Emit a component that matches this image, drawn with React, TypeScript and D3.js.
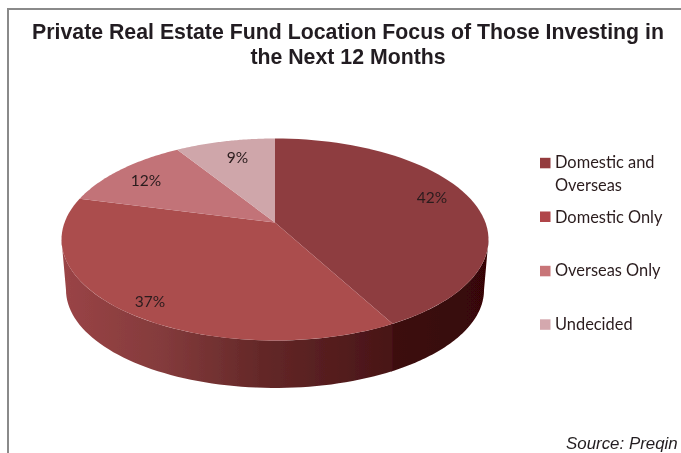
import React from "react";
import * as d3 from "d3";

const categories = ["Domestic and Overseas", "Domestic Only", "Overseas Only", "Undecided"];
const legendLines = [["Domestic and", "Overseas"], ["Domestic Only"], ["Overseas Only"], ["Undecided"]];
const values = [42, 37, 12, 9];
const topColors = ["#8e3d40", "#ab4d4e", "#c27378", "#cfa6aa"];
const swatchColors = ["#943a3e", "#b04548", "#c87478", "#d4a8ae"];
const titleLines = ["Private Real Estate Fund Location Focus of Those Investing in", "the Next 12 Months"];
const source = "Source: Preqin";

const W = 681, H = 453;
// unit-circle space to pixels, top face and base of the drum
const cx = 275, cy = 239.5, rx = 213.5, ry = 101, baseRx = 209;
const xTop = d3.scaleLinear().domain([-1, 1]).range([cx - rx, cx + rx]);
const yTop = d3.scaleLinear().domain([-1, 1]).range([cy - ry, cy + ry]);
const xBase = d3.scaleLinear().domain([-1, 1]).range([cx - baseRx, cx + baseRx]);
const yBase = d3.scaleLinear().domain([-1, 1]).range([290 - 98, 290 + 98]);
const apexY = -0.168; // the perspective apex sits above the ellipse centre

// a pie angle is a ray from the apex to the rim of the unit circle
function rim(theta: number): [number, number] {
  const dx = Math.sin(theta), dy = -Math.cos(theta);
  const b = apexY * dy;
  const c = apexY * apexY - 1;
  const t = -b + Math.sqrt(b * b - c);
  return [dx * t, apexY + dy * t];
}

const pieLayout = d3.pie<number>().sort(null).value((d) => d);
const arcs = pieLayout(values);
const line = d3.line();

function topPath(a0: number, a1: number) {
  const pts = d3.range(0, 61).map((i) => {
    const [u, v] = rim(a0 + ((a1 - a0) * i) / 60);
    return [xTop(u), yTop(v)] as [number, number];
  });
  return line([[xTop(0), yTop(apexY)], ...pts]) + "Z";
}

// wall between rim parameters (clockwise from top): p on the top face, q on the base
function wallPath(p0: number, p1: number, q0: number, q1: number) {
  const t = d3.range(0, 61).map((i) => i / 60);
  const up = t.map((k) => {
    const p = p0 + (p1 - p0) * k;
    return [xTop(Math.sin(p)), yTop(-Math.cos(p))] as [number, number];
  });
  const down = t.map((k) => {
    const q = q0 + (q1 - q0) * k;
    return [xBase(Math.sin(q)), yBase(-Math.cos(q))] as [number, number];
  }).reverse();
  return line([...up, ...down]) + "Z";
}

const splitRim = rim(arcs[0].endAngle);
const splitTop = Math.atan2(splitRim[0], -splitRim[1]);
// the wall seam is vertical, so the base parameter keeps the same x
const splitBase = Math.PI - Math.asin((splitRim[0] * rx) / baseRx);
const seamOverlap = 0.01;
const labelPos: [number, number][] = [[432, 197], [150, 301], [146, 180], [237.5, 157]];
const legendY = [163, 216.7, 271, 324.5];
const legendTextY = [162, 217, 270, 324];

export default function App() {
  return (
    <svg width={W} height={H} style={{ position: "absolute", left: 0, top: 0 }} viewBox={`0 0 ${W} ${H}`}>
      <defs>
        <linearGradient id="wallA" gradientUnits="userSpaceOnUse" x1={62} x2={393} y1={0} y2={0}>
          <stop offset="0" stopColor="#9a4446" />
          <stop offset="0.3" stopColor="#843b3c" />
          <stop offset="0.6" stopColor="#642828" />
          <stop offset="1" stopColor="#481416" />
        </linearGradient>
        <linearGradient id="wallB" gradientUnits="userSpaceOnUse" x1={393} x2={489} y1={0} y2={0}>
          <stop offset="0" stopColor="#3c0a0c" />
          <stop offset="1" stopColor="#360606" />
        </linearGradient>
        <filter id="soft" x="-5%" y="-5%" width="110%" height="110%"><feGaussianBlur stdDeviation="0.45" /></filter>
      </defs>
      <rect width={W} height={H} fill="#fff" />
      <path d={`M8 453V9H681`} fill="none" stroke="#8a8a8a" strokeWidth={2} />
      <g filter="url(#soft)">
        <text textAnchor="middle" fontFamily="Liberation Sans" fontWeight={700} fontSize={21.3} fill="#231f20">
          {titleLines.map((t, i) => (
            <tspan key={t} x={348} y={39 + i * 25}>{t}</tspan>
          ))}
        </text>
        <path d={wallPath(Math.PI / 2, splitTop + seamOverlap, Math.PI / 2, splitBase + seamOverlap)} fill="url(#wallB)" />
        <path d={wallPath(splitTop, (3 * Math.PI) / 2, splitBase, (3 * Math.PI) / 2)} fill="url(#wallA)" />
        {arcs.map((a, i) => (
          <path key={categories[i]} d={topPath(a.startAngle, a.endAngle)} fill={topColors[i]} />
        ))}
        <g fontFamily="Lato, Carlito, sans-serif" fill="#2a1c1e">
          {values.map((v, i) => (
            <text key={v} x={labelPos[i][0]} y={labelPos[i][1]} fontSize={15.5} textAnchor="middle" dominantBaseline="central">{v}%</text>
          ))}
          {categories.map((c, i) => (
            <g key={c}>
              <rect x={540} y={legendY[i] - 5.2} width={10.5} height={10.5} fill={swatchColors[i]} />
              {legendLines[i].map((l, j) => (
                <text key={l} x={555} y={legendTextY[i] + 6 + j * 23} fontSize={16.4}>{l}</text>
              ))}
            </g>
          ))}
        </g>
        <text x={566} y={449} fontFamily="Liberation Sans" fontStyle="italic" fontSize={16.9} fill="#231f20">{source}</text>
      </g>
    </svg>
  );
}
